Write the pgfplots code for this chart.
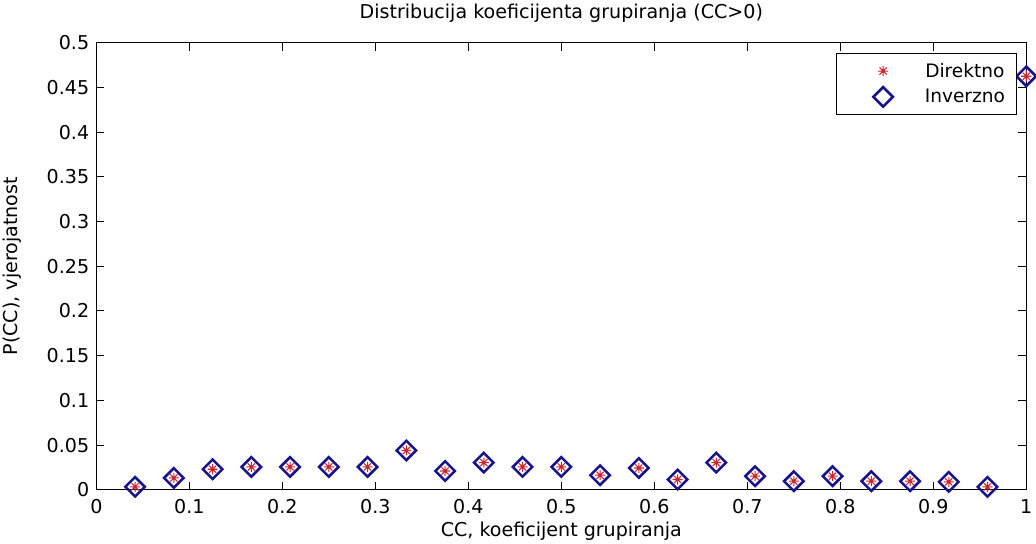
\documentclass[border=0pt]{standalone}
\usepackage{fontspec}
\setmainfont{DejaVu Sans}
\usepackage{pgfplots}
\pgfplotsset{compat=1.18}

\definecolor{mred}{RGB}{205,35,45}
\definecolor{mblue}{RGB}{25,20,140}

% eight-spoke asterisk (plus and cross)
\pgfdeclareplotmark{mstar}{%
  \pgfpathmoveto{\pgfqpoint{-\pgfplotmarksize}{0pt}}%
  \pgfpathlineto{\pgfqpoint{\pgfplotmarksize}{0pt}}%
  \pgfpathmoveto{\pgfqpoint{0pt}{-\pgfplotmarksize}}%
  \pgfpathlineto{\pgfqpoint{0pt}{\pgfplotmarksize}}%
  \pgfpathmoveto{\pgfqpoint{-0.7071\pgfplotmarksize}{-0.7071\pgfplotmarksize}}%
  \pgfpathlineto{\pgfqpoint{0.7071\pgfplotmarksize}{0.7071\pgfplotmarksize}}%
  \pgfpathmoveto{\pgfqpoint{-0.7071\pgfplotmarksize}{0.7071\pgfplotmarksize}}%
  \pgfpathlineto{\pgfqpoint{0.7071\pgfplotmarksize}{-0.7071\pgfplotmarksize}}%
  \pgfusepathqstroke}

\pgfplotstableread{
cc      p
0.04167 0.0033
0.08333 0.0133
0.12500 0.0230
0.16667 0.0256
0.20833 0.0256
0.25000 0.0256
0.29167 0.0256
0.33333 0.0440
0.37500 0.0210
0.41667 0.0304
0.45833 0.0256
0.50000 0.0256
0.54167 0.0163
0.58333 0.0244
0.62500 0.0115
0.66667 0.0304
0.70833 0.0152
0.75000 0.0096
0.79167 0.0152
0.83333 0.0096
0.87500 0.0096
0.91667 0.0089
0.95833 0.0033
1.00000 0.4625
}\ccdata

\begin{document}
\begin{tikzpicture}
\begin{axis}[
  at={(0,0)}, anchor=south west,
  scale only axis, width=702pt, height=337.5pt,
  xmin=0, xmax=1, ymin=0, ymax=0.5,
  xtick={0,0.1,0.2,0.3,0.4,0.5,0.6,0.7,0.8,0.9,1},
  xticklabels={0,0.1,0.2,0.3,0.4,0.5,0.6,0.7,0.8,0.9,1},
  ytick={0,0.05,0.1,0.15,0.2,0.25,0.3,0.35,0.4,0.45,0.5},
  yticklabels={0,0.05,0.1,0.15,0.2,0.25,0.3,0.35,0.4,0.45,0.5},
  tick align=inside,
  major tick length=6pt,
  tick style={black, line width=0.75pt},
  axis line style={line width=0.9pt},
  font=\fontsize{14.4}{17}\selectfont,
  ticklabel style={font=\fontsize{14.4}{17}\selectfont},
  xticklabel style={anchor=base, yshift=-18pt, inner sep=0pt},
  yticklabel style={anchor=east, xshift=-5.25pt, inner sep=0pt},
  title={Distribucija koeficijenta grupiranja (CC>0)},
  title style={at={(0.5,1)}, anchor=base, yshift=12pt, inner sep=0pt},
  xlabel={CC, koeficijent grupiranja},
  xlabel style={at={(0.5,0)}, anchor=base, yshift=-35.25pt, inner sep=0pt},
  ylabel={P(CC), vjerojatnost},
  ylabel style={at={(axis description cs:-0.0908,0.5)}, anchor=center, inner sep=0pt},
  clip=false,
  legend style={at={(1,1)}, anchor=north east, xshift=-6.75pt, yshift=-7.5pt,
    draw=black, line width=0.75pt, fill=white,
    inner xsep=9pt, inner ysep=3.75pt, row sep=0pt, column sep=7.75pt,
    nodes={inner sep=0pt}, font=\fontsize{14}{17}\selectfont},
  legend image code/.code={%
    \path[draw=none, fill=none] (0pt,-9.75pt) rectangle (50pt,9.75pt);
    \draw[#1] plot coordinates {(26.25pt,0pt)};},
]
\addplot[only marks, color=mred, mark=mstar, mark size=3.8pt, line width=0.8pt]
  table[x=cc, y=p] {\ccdata};
\addlegendentry{Direktno}
\addplot[only marks, color=mblue, mark=square, mark size=5.2pt,
  mark options={rotate=45}, line width=1.9pt]
  table[x=cc, y=p] {\ccdata};
\addlegendentry{Inverzno}
\end{axis}
\path[use as bounding box] (-72.75pt,-40.5pt) rectangle (704.25pt,369.75pt);
\end{tikzpicture}
\end{document}
